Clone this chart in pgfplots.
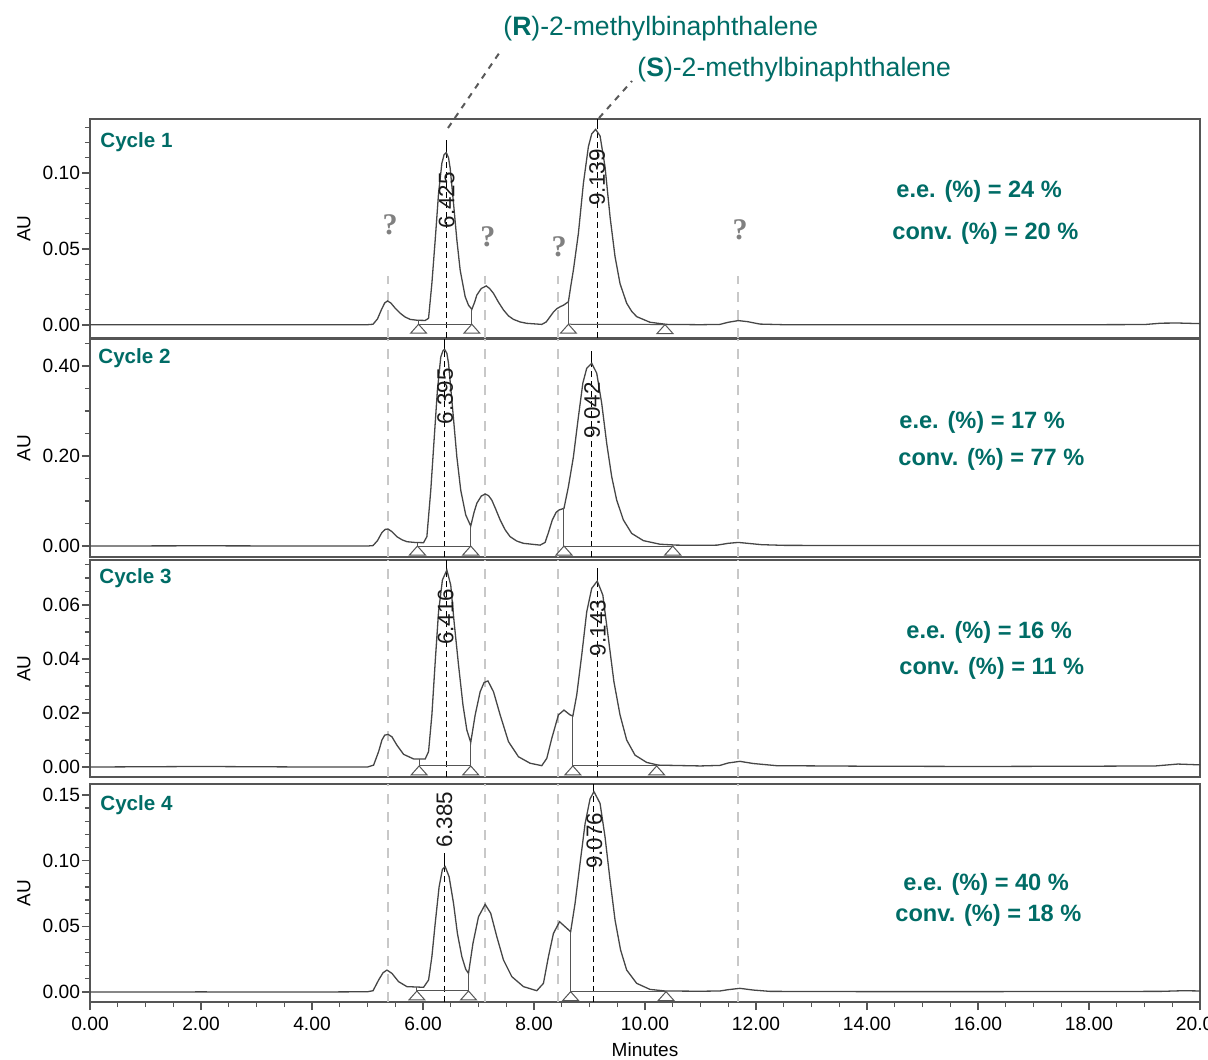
\documentclass[border=0pt]{standalone}
\usepackage{pgfplots}
\pgfplotsset{compat=1.18}
\usepackage{fontspec}
\setmainfont{Liberation Sans}
\newfontfamily\qfont{Liberation Serif}
\definecolor{teal1}{RGB}{0,108,102}
\definecolor{axgray}{RGB}{85,85,85}
\definecolor{curvec}{RGB}{70,70,70}
\definecolor{refgray}{RGB}{200,200,200}
\tikzset{plab/.style={rotate=90, font=\fontsize{11.2}{13}\selectfont, inner sep=0pt, text=black!90}}
\begin{document}
\begin{tikzpicture}
\pgfplotsset{
  chrom/.style={
    scale only axis, width=555pt, xmin=0, xmax=20,
    anchor=north west,
    axis line style={axgray, line width=0.8pt},
    xtick=\empty,
    ytick pos=left, tick align=outside,
    major tick length=4pt, minor tick length=2.5pt,
    every tick/.append style={axgray, line width=0.6pt},
    scaled y ticks=false,
    /pgf/number format/assume math mode=true,
    yticklabel style={/pgf/number format/.cd, fixed, fixed zerofill, precision=2, /tikz/.cd, font=\fontsize{9.6}{11}\selectfont, inner sep=0.8pt},
    ylabel={AU},
    ylabel style={at={(axis description cs:-0.0595,0.5)}, anchor=center, font=\fontsize{9.5}{11}\selectfont},
    clip=false,
  },
  trace/.style={curvec, line width=0.65pt},
  intg/.style={axgray, line width=0.5pt},
  tri/.style={only marks, mark=triangle*, mark size=4.6pt, mark options={fill=white, draw=axgray, line width=0.5pt, yshift=-3pt, yscale=0.65}},
  refl/.style={refgray, line width=1pt, dash pattern=on 5pt off 4pt},
  apex/.style={black, line width=0.5pt, dash pattern=on 3pt off 2pt},
  apexs/.style={black, line width=0.5pt},
}
% ---------------- Panel 1 ----------------
\begin{axis}[chrom, at={(0pt,0pt)}, height=109.5pt, ymin=-0.00855, ymax=0.1355,
  ytick={0,0.05,0.1}, minor ytick={0.01,0.02,0.03,0.04,0.06,0.07,0.08,0.09,0.11,0.12,0.13}]
\addplot[refl] coordinates {(5.37,-0.00855)(5.37,0.032)};
\addplot[refl] coordinates {(7.12,-0.00855)(7.12,0.032)};
\addplot[refl] coordinates {(8.43,-0.00855)(8.43,0.032)};
\addplot[refl] coordinates {(11.68,-0.00855)(11.68,0.032)};
\addplot[apex] coordinates {(6.425,-0.00855)(6.425,0.1134)};
\addplot[apexs] coordinates {(6.425,0.1134)(6.425,0.1220)};
\addplot[apex] coordinates {(9.139,-0.00855)(9.139,0.1287)};
\addplot[apexs] coordinates {(9.139,0.1287)(9.139,0.1355)};
\addplot[trace] coordinates {(0,0.0002)(1,0.0001)(2,0.0002)(3,0.0001)(4,0.0002)(5,0.0002)(5.10,0.0005)(5.18,0.004)(5.25,0.010)(5.31,0.0145)(5.36,0.0158)(5.42,0.0145)(5.50,0.0110)(5.59,0.0077)(5.68,0.0052)(5.77,0.0037)(5.90,0.0031)(6.04,0.0030)(6.10,0.0044)(6.16,0.0274)(6.22,0.0560)(6.28,0.0866)(6.34,0.1064)(6.38,0.1120)(6.42,0.1134)(6.46,0.1100)(6.49,0.1030)(6.55,0.0800)(6.61,0.0560)(6.67,0.0360)(6.76,0.0186)(6.82,0.0130)(6.88,0.0103)(6.93,0.0150)(6.97,0.0197)(7.05,0.0240)(7.14,0.0257)(7.20,0.0240)(7.27,0.0208)(7.36,0.0150)(7.45,0.0099)(7.54,0.0060)(7.63,0.0037)(7.75,0.0020)(7.87,0.0011)(8.14,0.0004)(8.22,0.0020)(8.29,0.0055)(8.35,0.0085)(8.41,0.0107)(8.47,0.0120)(8.53,0.0130)(8.62,0.0153)(8.66,0.0250)(8.71,0.0362)(8.80,0.0603)(8.89,0.0932)(8.98,0.1173)(9.04,0.1257)(9.11,0.1287)(9.19,0.1244)(9.28,0.1040)(9.37,0.0713)(9.46,0.0450)(9.55,0.0272)(9.67,0.0143)(9.76,0.0090)(9.85,0.0055)(10.09,0.0018)(10.39,0.0004)(11.0,0.0002)(11.35,0.0004)(11.5,0.0018)(11.68,0.0029)(11.85,0.0022)(12.07,0.0006)(12.5,0.0002)(14,0.0001)(16,0.0002)(18,0.0002)(19.0,0.0003)(19.3,0.0012)(19.6,0.0013)(20,0.0009)};
\addplot[intg] coordinates {(5.92,0.0005)(6.88,0.0005)};
\addplot[intg] coordinates {(8.62,0.0005)(10.36,0.0003)};
\addplot[intg] coordinates {(5.92,0.0005)(5.92,0.0031)};
\addplot[intg] coordinates {(6.88,0.0005)(6.88,0.0103)};
\addplot[intg] coordinates {(8.62,0.0005)(8.62,0.0153)};
\addplot[tri] coordinates {(5.92,0.0005)(6.88,0.0005)(8.62,0.0005)(10.36,0.0003)};
\node[plab] at (axis cs:6.425,0.082) {6.425};
\node[plab] at (axis cs:9.139,0.097) {9.139};
\end{axis}
% ---------------- Panel 2 ----------------
\begin{axis}[chrom, at={(0pt,-110pt)}, height=109pt, ymin=-0.0244, ymax=0.46,
  ytick={0,0.2,0.4}, minor ytick={0.05,0.1,0.15,0.25,0.3,0.35,0.45}]
\addplot[refl] coordinates {(5.37,-0.0244)(5.37,0.46)};
\addplot[refl] coordinates {(7.12,-0.0244)(7.12,0.46)};
\addplot[refl] coordinates {(8.43,-0.0244)(8.43,0.46)};
\addplot[refl] coordinates {(11.68,-0.0244)(11.68,0.46)};
\addplot[apex] coordinates {(6.395,-0.0244)(6.395,0.437)};
\addplot[apexs] coordinates {(6.395,0.437)(6.395,0.46)};
\addplot[apex] coordinates {(9.042,-0.0244)(9.042,0.406)};
\addplot[apexs] coordinates {(9.042,0.406)(9.042,0.434)};
\addplot[trace] coordinates {(0,0.0)(2,0.0005)(4,0.0)(5.0,0.0)(5.10,0.001)(5.18,0.012)(5.26,0.030)(5.32,0.037)(5.37,0.0378)(5.44,0.032)(5.53,0.0207)(5.62,0.0140)(5.71,0.0096)(5.85,0.0080)(6.01,0.0074)(6.07,0.021)(6.14,0.124)(6.20,0.236)(6.26,0.347)(6.32,0.420)(6.36,0.434)(6.39,0.437)(6.43,0.428)(6.46,0.406)(6.53,0.310)(6.61,0.198)(6.68,0.124)(6.77,0.069)(6.86,0.0444)(6.92,0.075)(6.97,0.095)(7.05,0.111)(7.12,0.1156)(7.18,0.112)(7.24,0.102)(7.31,0.082)(7.39,0.058)(7.48,0.036)(7.57,0.0207)(7.69,0.011)(7.81,0.006)(8.11,0.002)(8.20,0.008)(8.26,0.030)(8.33,0.058)(8.40,0.075)(8.45,0.080)(8.54,0.0837)(8.62,0.132)(8.71,0.198)(8.80,0.287)(8.88,0.362)(8.95,0.395)(9.04,0.406)(9.13,0.384)(9.22,0.317)(9.31,0.228)(9.40,0.154)(9.49,0.102)(9.61,0.058)(9.76,0.028)(9.97,0.012)(10.27,0.004)(10.57,0.002)(11.0,0.0015)(11.3,0.002)(11.5,0.006)(11.68,0.008)(11.85,0.006)(12.1,0.003)(12.5,0.0015)(14,0.001)(16,0.001)(18,0.001)(20,0.001)};
\addplot[intg] coordinates {(5.90,0)(6.86,0)};
\addplot[intg] coordinates {(8.54,0)(10.50,0)};
\addplot[intg] coordinates {(5.90,0)(5.90,0.0078)};
\addplot[intg] coordinates {(6.86,0)(6.86,0.0444)};
\addplot[intg] coordinates {(8.54,0)(8.54,0.0837)};
\addplot[tri] coordinates {(5.90,0)(6.86,0)(8.54,0)(10.50,0)};
\node[plab] at (axis cs:6.40,0.333) {6.395};
\node[plab] at (axis cs:9.05,0.302) {9.042};
\end{axis}
% ---------------- Panel 3 ----------------
\begin{axis}[chrom, at={(0pt,-220.5pt)}, height=108.5pt, ymin=-0.0037, ymax=0.0767,
  ytick={0,0.02,0.04,0.06}, minor ytick={0.005,0.01,0.015,0.025,0.03,0.035,0.045,0.05,0.055,0.065,0.07,0.075}]
\addplot[refl] coordinates {(5.37,-0.0037)(5.37,0.0767)};
\addplot[refl] coordinates {(7.12,-0.0037)(7.12,0.0767)};
\addplot[refl] coordinates {(8.43,-0.0037)(8.43,0.0767)};
\addplot[refl] coordinates {(11.68,-0.0037)(11.68,0.0767)};
\addplot[apex] coordinates {(6.416,-0.0037)(6.416,0.073)};
\addplot[apexs] coordinates {(6.416,0.073)(6.416,0.0767)};
\addplot[apex] coordinates {(9.143,-0.0037)(9.143,0.0689)};
\addplot[apexs] coordinates {(9.143,0.0689)(9.143,0.0737)};
\addplot[trace] coordinates {(0,0)(2,0.0002)(4,0)(5.0,0.0)(5.11,0.0007)(5.20,0.0057)(5.26,0.010)(5.31,0.0118)(5.37,0.0121)(5.44,0.0112)(5.53,0.0081)(5.65,0.0047)(5.83,0.0030)(6.04,0.0030)(6.10,0.0057)(6.16,0.0193)(6.22,0.0390)(6.28,0.0575)(6.35,0.0693)(6.43,0.0730)(6.50,0.0674)(6.56,0.0538)(6.64,0.0378)(6.72,0.0230)(6.79,0.0137)(6.86,0.0091)(6.94,0.0193)(7.03,0.0279)(7.10,0.0313)(7.17,0.0319)(7.27,0.0279)(7.39,0.0193)(7.54,0.0094)(7.72,0.0038)(7.93,0.0014)(8.14,0.0005)(8.23,0.0032)(8.32,0.0106)(8.44,0.0193)(8.54,0.0211)(8.65,0.0193)(8.70,0.0189)(8.77,0.0267)(8.86,0.0415)(8.95,0.0575)(9.04,0.0662)(9.14,0.0689)(9.24,0.0637)(9.34,0.0477)(9.44,0.0316)(9.55,0.0193)(9.67,0.0100)(9.82,0.0044)(10.03,0.0017)(10.24,0.0007)(11.0,0.0004)(11.35,0.0006)(11.5,0.0015)(11.71,0.0021)(11.95,0.0013)(12.37,0.0005)(14,0.0003)(16,0.0002)(18,0.0003)(19.2,0.0004)(19.6,0.0011)(20,0.0008)};
\addplot[intg] coordinates {(5.93,0.0004)(6.86,0.0004)};
\addplot[intg] coordinates {(8.70,0.0004)(10.21,0.0004)};
\addplot[intg] coordinates {(5.93,0.0004)(5.93,0.0030)};
\addplot[intg] coordinates {(6.86,0.0004)(6.86,0.0091)};
\addplot[intg] coordinates {(8.70,0.0004)(8.70,0.0189)};
\addplot[tri] coordinates {(5.93,0.0004)(6.86,0.0004)(8.70,0.0004)(10.21,0.0004)};
\node[plab] at (axis cs:6.41,0.0556) {6.416};
\node[plab] at (axis cs:9.15,0.0515) {9.143};
\end{axis}
% ---------------- Panel 4 ----------------
\begin{axis}[chrom, at={(0pt,-332.5pt)}, height=109pt, ymin=-0.0076, ymax=0.1583,
  ytick={0,0.05,0.1,0.15}, minor ytick={0.01,0.02,0.03,0.04,0.06,0.07,0.08,0.09,0.11,0.12,0.13,0.14},
  xtick={0,2,...,20}, minor x tick num=3, xtick pos=bottom,
  xticklabel style={/pgf/number format/.cd, fixed, fixed zerofill, precision=2, /tikz/.cd, font=\fontsize{9.6}{11}\selectfont},
  xlabel={Minutes}, xlabel style={at={(axis description cs:0.5,-0.22)}, anchor=center, font=\fontsize{9.5}{11}\selectfont}]
\addplot[refl] coordinates {(5.37,-0.0076)(5.37,0.1583)};
\addplot[refl] coordinates {(7.12,-0.0076)(7.12,0.1583)};
\addplot[refl] coordinates {(8.43,-0.0076)(8.43,0.1583)};
\addplot[refl] coordinates {(11.68,-0.0076)(11.68,0.1583)};
\addplot[apex] coordinates {(6.385,-0.0076)(6.385,0.0954)};
\addplot[apexs] coordinates {(6.385,0.0954)(6.385,0.1055)};
\addplot[apex] coordinates {(9.076,-0.0076)(9.076,0.1525)};
\addplot[apexs] coordinates {(9.076,0.1525)(9.076,0.1583)};
\addplot[trace] coordinates {(0,0)(2,0.0001)(4,0)(5.0,0.0002)(5.10,0.001)(5.20,0.0091)(5.28,0.0147)(5.35,0.0167)(5.44,0.0142)(5.56,0.0079)(5.71,0.0041)(6.01,0.0036)(6.10,0.0091)(6.16,0.0269)(6.22,0.0523)(6.29,0.0800)(6.35,0.0934)(6.40,0.0954)(6.47,0.0878)(6.55,0.0675)(6.62,0.0446)(6.70,0.0269)(6.77,0.0173)(6.82,0.0142)(6.90,0.0370)(7.00,0.0573)(7.12,0.0667)(7.22,0.0599)(7.33,0.0421)(7.45,0.0244)(7.60,0.0117)(7.81,0.0041)(8.05,0.0010)(8.17,0.0066)(8.26,0.0269)(8.35,0.0446)(8.46,0.0535)(8.56,0.0497)(8.66,0.0459)(8.74,0.0675)(8.83,0.0980)(8.92,0.1280)(9.01,0.1470)(9.08,0.1525)(9.19,0.1436)(9.28,0.1180)(9.37,0.0852)(9.46,0.0548)(9.56,0.0320)(9.67,0.0167)(9.85,0.0066)(10.09,0.0020)(10.36,0.0008)(11.0,0.0006)(11.35,0.0008)(11.5,0.0018)(11.71,0.0028)(11.95,0.0015)(12.25,0.0005)(14,0.0003)(16,0.0003)(18,0.0004)(19.3,0.0005)(19.7,0.0010)(20,0.0008)};
\addplot[intg] coordinates {(5.89,0.0008)(6.82,0.0008)};
\addplot[intg] coordinates {(8.66,0.0003)(10.38,0.0003)};
\addplot[intg] coordinates {(5.89,0.0008)(5.89,0.0036)};
\addplot[intg] coordinates {(6.82,0.0008)(6.82,0.0142)};
\addplot[intg] coordinates {(8.66,0.0003)(8.66,0.0459)};
\addplot[tri] coordinates {(5.89,0.0008)(6.82,0.0008)(8.66,0.0003)(10.38,0.0003)};
\node[plab] at (axis cs:6.385,0.131) {6.385};
\node[plab] at (axis cs:9.09,0.115) {9.076};
\end{axis}
% ---------------- annotations ----------------
\draw[black!65, line width=1pt, dash pattern=on 3pt off 3pt] (179pt,-4.5pt) -- (206pt,35pt);
\draw[black!65, line width=1pt, dash pattern=on 3pt off 3pt] (254.5pt,0.5pt) -- (271pt,19pt);
\node[anchor=west, inner sep=0pt, text=teal1, font=\fontsize{13.3}{15}\selectfont] at (206.5pt,45pt) {(\textbf{R})-2-methylbinaphthalene};
\node[anchor=west, inner sep=0pt, text=teal1, font=\fontsize{13.3}{15}\selectfont] at (273.5pt,24.5pt) {(\textbf{S})-2-methylbinaphthalene};
\begin{scope}[every node/.style={anchor=west, inner sep=0pt, text=teal1, font=\fontsize{10.3}{12}\selectfont\bfseries}]
\node at (5pt,-11.5pt) {Cycle 1};
\node at (4pt,-119.5pt) {Cycle 2};
\node at (4.5pt,-229.5pt) {Cycle 3};
\node at (5pt,-343pt) {Cycle 4};
\end{scope}
\begin{scope}[every node/.style={anchor=west, inner sep=0pt, text=teal1, font=\fontsize{11.8}{13}\selectfont\bfseries}]
\node at (403pt,-36.3pt) {e.e. (\%) = 24 \%};
\node at (401pt,-57pt) {conv. (\%) = 20 \%};
\node at (404.5pt,-151.5pt) {e.e. (\%) = 17 \%};
\node at (404pt,-170pt) {conv. (\%) = 77 \%};
\node at (408pt,-256.5pt) {e.e. (\%) = 16 \%};
\node at (404.5pt,-274.5pt) {conv. (\%) = 11 \%};
\node at (406.5pt,-382.5pt) {e.e. (\%) = 40 \%};
\node at (402.5pt,-398.3pt) {conv. (\%) = 18 \%};
\end{scope}
\begin{scope}[every node/.style={inner sep=0pt, text=black!50, font=\fontsize{15}{17}\selectfont\qfont\bfseries}]
\node at (150pt,-53pt) {?};
\node at (198.9pt,-58.9pt) {?};
\node at (234.5pt,-63.9pt) {?};
\node at (325pt,-55.5pt) {?};
\end{scope}
\pgfresetboundingbox
\path[use as bounding box] (-45pt,59.5pt) rectangle (559pt,-470pt);
\end{tikzpicture}
\end{document}
